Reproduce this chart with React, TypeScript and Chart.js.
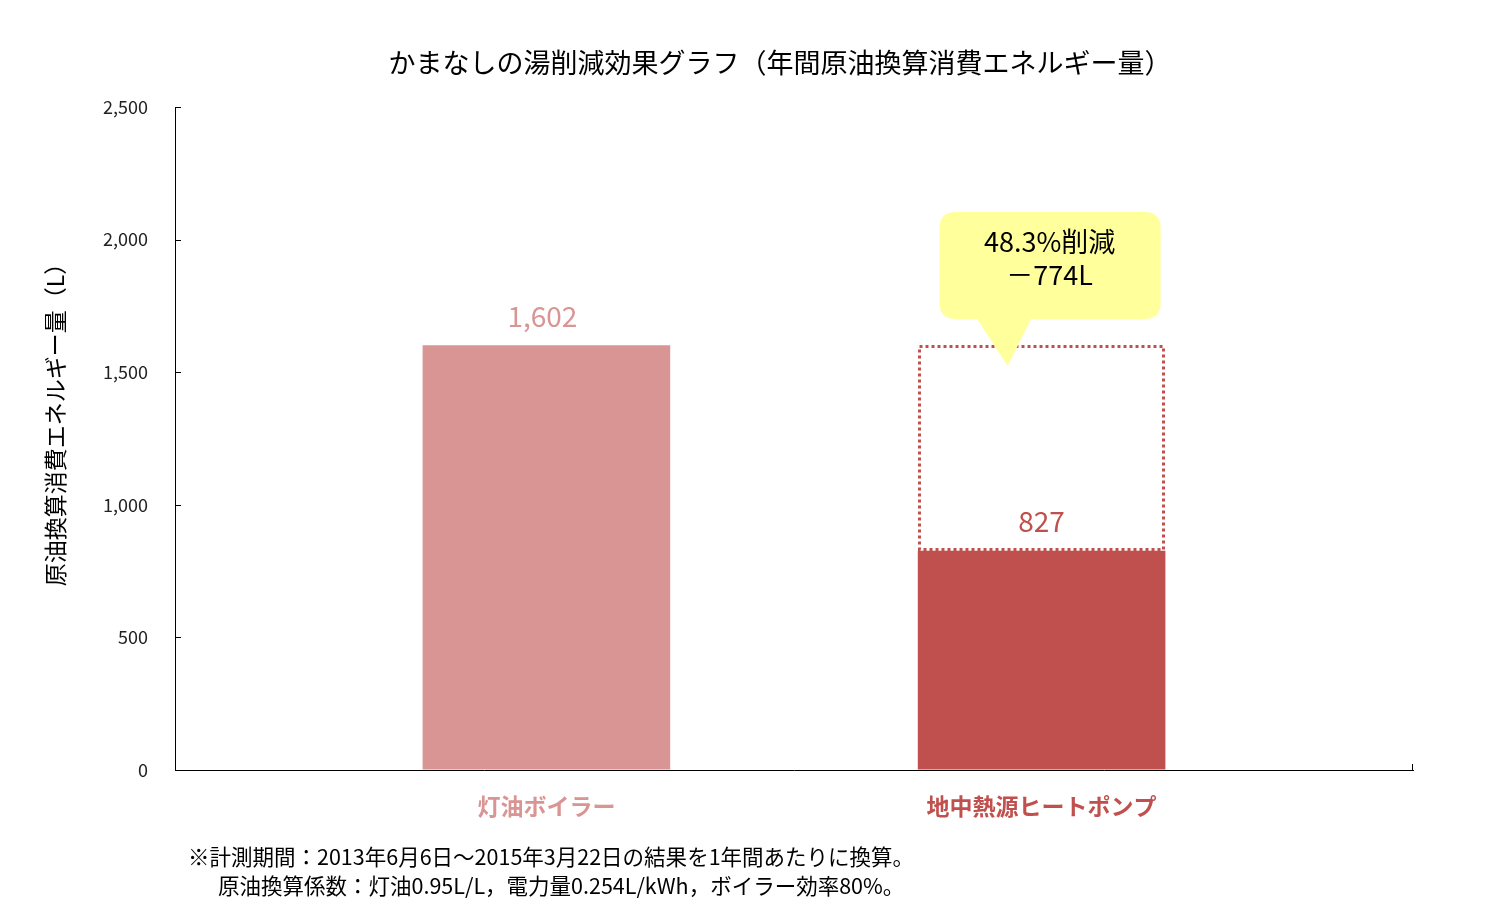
import React, { useEffect, useRef } from 'react';
import { Chart, registerables } from 'chart.js';

Chart.register(...registerables);

const FONT = "'Noto Sans CJK JP', 'Noto Sans', sans-serif";

const chartTitle = 'かまなしの湯削減効果グラフ（年間原油換算消費エネルギー量）';
const yAxisTitle = '原油換算消費エネルギー量（L）';
const categories = ['灯油ボイラー', '地中熱源ヒートポンプ'];
const categoryPositions = [0, 1];
const annualLitres = [1602, 827];
const reductionLitres = 774;
const reductionPercent = 48.3;
const yMin = 0;
const yMax = 2500;
const yStep = 500;
const footnotes = [
  '※計測期間：2013年6月6日～2015年3月22日の結果を1年間あたりに換算。',
  '原油換算係数：灯油0.95L/L，電力量0.254L/kWh，ボイラー効率80%。',
];

const PINK = '#D99594';
const RED = '#C0504D';
const YELLOW = '#FFFF9C';

function roundRect(ctx: CanvasRenderingContext2D, x: number, y: number, w: number, h: number, r: number) {
  ctx.beginPath();
  ctx.moveTo(x + r, y);
  ctx.lineTo(x + w - r, y);
  ctx.quadraticCurveTo(x + w, y, x + w, y + r);
  ctx.lineTo(x + w, y + h - r);
  ctx.quadraticCurveTo(x + w, y + h, x + w - r, y + h);
  ctx.lineTo(x + r, y + h);
  ctx.quadraticCurveTo(x, y + h, x, y + h - r);
  ctx.lineTo(x, y + r);
  ctx.quadraticCurveTo(x, y, x + r, y);
  ctx.closePath();
}

const overlayPlugin = {
  id: 'overlay',
  afterDatasetsDraw(chart: any) {
    const ctx: CanvasRenderingContext2D = chart.ctx;
    const boiler = chart.getDatasetMeta(0).data[0];
    const pump = chart.getDatasetMeta(1).data[0];
    const ghost = chart.getDatasetMeta(2).data[0];
    ctx.save();
    // dotted outline of the reduced part
    const gl = Math.round(ghost.x - ghost.width / 2);
    const gr = Math.round(ghost.x + ghost.width / 2);
    const gt = Math.round(Math.min(ghost.y, ghost.base));
    const gb = Math.round(Math.max(ghost.y, ghost.base));
    ctx.setLineDash([3, 3]);
    ctx.lineWidth = 3;
    ctx.strokeStyle = RED;
    ctx.strokeRect(gl + 1.5, gt + 1.5, gr - gl - 3, gb - gt - 3);
    ctx.setLineDash([]);

    // value labels
    ctx.font = `28px ${FONT}`;
    ctx.textAlign = 'center';
    ctx.textBaseline = 'middle';
    ctx.fillStyle = PINK;
    ctx.fillText(annualLitres[0].toLocaleString('en-US'), boiler.x - 4, boiler.y - 29);
    ctx.fillStyle = RED;
    ctx.fillText(annualLitres[1].toLocaleString('en-US'), pump.x, pump.y - 29);

    // callout
    const cx = ghost.x;
    const top = gt;
    ctx.fillStyle = YELLOW;
    roundRect(ctx, cx - 102, top - 133, 221, 107, 16);
    ctx.fill();
    ctx.beginPath();
    ctx.moveTo(cx - 65, top - 27);
    ctx.lineTo(cx - 10, top - 27);
    ctx.lineTo(cx - 34, top + 21);
    ctx.closePath();
    ctx.fill();
    ctx.fillStyle = '#000';
    ctx.font = `27px ${FONT}`;
    ctx.fillText(`${reductionPercent}%削減`, cx + 8, top - 103);
    ctx.fillText(`－${reductionLitres}L`, cx + 8, top - 70);
    ctx.restore();
  },
  afterDraw(chart: any) {
    const ctx: CanvasRenderingContext2D = chart.ctx;
    const { left, right, bottom } = chart.chartArea;
    const y = chart.scales.y;
    ctx.save();
    ctx.strokeStyle = '#000';
    ctx.lineWidth = 1;
    ctx.beginPath();
    y.ticks.forEach((t: any) => {
      const py = Math.round(y.getPixelForValue(t.value)) + 0.5;
      ctx.moveTo(left, py);
      ctx.lineTo(left + 6, py);
    });
    const rx = Math.round(right) - 0.5;
    ctx.moveTo(rx, bottom);
    ctx.lineTo(rx, bottom - 6);
    ctx.stroke();

    ctx.fillStyle = '#000';
    ctx.textBaseline = 'middle';
    ctx.textAlign = 'center';
    ctx.font = `27px ${FONT}`;
    ctx.fillText(chartTitle, 780, 63);

    ctx.save();
    ctx.translate(55, 419);
    ctx.rotate(-Math.PI / 2);
    ctx.font = `23px ${FONT}`;
    ctx.fillText(yAxisTitle, 0, 0);
    ctx.restore();

    ctx.textAlign = 'left';
    ctx.font = `21.5px ${FONT}`;
    ctx.fillText(footnotes[0], 188, 857);
    ctx.fillText(footnotes[1], 218, 886);
    ctx.restore();
  },
};

export default function App() {
  const ref = useRef<HTMLCanvasElement>(null);
  useEffect(() => {
    if (!ref.current) return;
    const chart = new Chart(ref.current, {
      type: 'bar',
      data: {
        datasets: [
          {
            label: categories[0],
            data: [{ x: categoryPositions[0], y: annualLitres[0] }],
            backgroundColor: PINK,
          },
          {
            label: categories[1],
            data: [{ x: categoryPositions[1], y: annualLitres[1] }],
            backgroundColor: RED,
          },
          {
            label: '削減分',
            data: [{ x: categoryPositions[1], y: [annualLitres[1], annualLitres[0]] }],
            backgroundColor: 'rgba(0,0,0,0)',
          },
        ] as any,
      },
      options: {
        animation: false,
        responsive: false,
        devicePixelRatio: 1,
        datasets: { bar: { grouped: false, categoryPercentage: 0.5, barPercentage: 1 } },
        layout: { padding: { top: 107, right: 98, bottom: 0, left: 0 } },
        plugins: { legend: { display: false }, tooltip: { enabled: false }, title: { display: false } },
        scales: {
          x: {
            type: 'linear',
            min: -0.75,
            max: 1.75,
            offset: false,
            afterBuildTicks: (scale: any) => {
              scale.ticks = categoryPositions.map((v) => ({ value: v }));
            },
            afterFit: (scale: any) => {
              scale.height = 152;
            },
            grid: { display: true, drawOnChartArea: false, drawTicks: false },
            border: { display: true, color: '#000', width: 1 },
            ticks: {
              autoSkip: false,
              maxRotation: 0,
              padding: 22,
              callback: (_v: any, i: number) => categories[i],
              font: { family: FONT, size: 23, weight: 'bold' },
              color: (c: any) => (c.index === 0 ? PINK : RED),
            },
          },
          y: {
            min: yMin,
            max: yMax,
            afterFit: (scale: any) => {
              scale.width = 175;
            },
            grid: { display: true, drawOnChartArea: false, drawTicks: false },
            border: { display: true, color: '#000', width: 1 },
            ticks: {
              stepSize: yStep,
              padding: 27,
              font: { family: FONT, size: 18 },
              color: '#222',
              callback: (v: any) => Number(v).toLocaleString('en-US'),
            },
          },
        },
      } as any,
      plugins: [overlayPlugin],
    });
    return () => chart.destroy();
  }, []);
  return (
    <div style={{ position: 'fixed', left: 0, top: 0, width: 1511, height: 922, background: '#fff' }}>
      <canvas ref={ref} width={1511} height={922} />
    </div>
  );
}
